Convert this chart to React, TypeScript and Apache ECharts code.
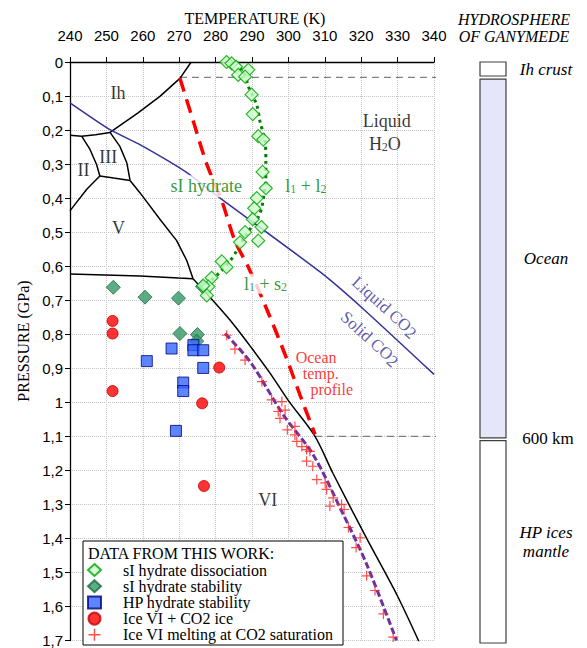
import React, { useEffect, useRef } from "react";
import * as echarts from "echarts";

const SERIF = "'Liberation Serif','Times New Roman',serif";
const SANS = "'Liberation Sans',Arial,sans-serif";

// ---------- axes ----------
const tempMin = 240;
const tempMax = 340;
const tempStep = 10;
const presMin = 0;
const presMax = 1.7;
const presStep = 0.1;

// ---------- phase boundaries of H2O [T (K), P (GPa)] ----------
const iceIhMelting = [[273.3, 0], [270.2, 0.048], [264.7, 0.101], [258.6, 0.15], [251, 0.207]];
const iceIhII = [[240, 0.215], [243.2, 0.218]];
const iceIhIII = [[243.2, 0.218], [247, 0.214], [251, 0.207]];
const iceIIIII = [[243.2, 0.218], [245.5, 0.257], [247.3, 0.301], [248.2, 0.335]];
const iceIIV = [[248.2, 0.335], [244.6, 0.374], [240.3, 0.433], [240, 0.437]];
const iceIIIV = [[248.2, 0.335], [252, 0.341], [256.5, 0.348]];
const iceIIIMelting = [[251, 0.207], [253.7, 0.248], [255.6, 0.296], [256.5, 0.348]];
const iceVMelting = [[256.5, 0.348], [259.2, 0.384], [264.7, 0.462], [269.3, 0.525], [272.1, 0.584], [273.8, 0.637]];
const iceVVI = [[240, 0.623], [259.2, 0.629], [269.8, 0.635], [273.8, 0.637]];
const iceVIMelting = [[273.8, 0.637], [280, 0.71], [285, 0.772], [290, 0.842], [295, 0.915], [300, 0.995], [307.3, 1.1], [312.3, 1.21], [321.5, 1.4], [330, 1.57], [337, 1.73]];

// ---------- CO2 liquid / solid boundary ----------
const co2Boundary = [[240, 0.12], [251, 0.199], [259.2, 0.243], [272.1, 0.325], [280.5, 0.394], [308.7, 0.617], [320.5, 0.725], [340, 0.918]];

// ---------- sI hydrate dissociation curve ----------
const hydrateCurve = [[285.6, 0], [288.1, 0.041], [289, 0.072], [291.3, 0.126], [292.2, 0.175], [293.6, 0.233], [293.8, 0.292], [293.8, 0.35], [293.3, 0.389], [292.7, 0.427], [291.7, 0.456], [288.5, 0.506], [285.8, 0.555], [284, 0.584], [280.7, 0.623], [277.6, 0.652]];

// ---------- ocean temperature profile ----------
const oceanProfile = [[270.2, 0.048], [273.9, 0.175], [277.6, 0.301], [281.7, 0.408], [285.3, 0.525], [289, 0.603], [294, 0.725], [299.5, 0.871], [303.2, 0.979], [307.3, 1.094]];

// ---------- Ice VI melting at CO2 saturation (fit) ----------
const iceVICO2Fit = [[282.6, 0.798], [289.5, 0.881], [298.6, 1.037], [306.8, 1.154], [315.1, 1.33], [321.5, 1.476], [329.7, 1.7]];

// ---------- data from this work ----------
const sIDissociation = [[283.0, 0.0], [284.4, 0.004], [285.6, 0.014], [289.0, 0.023], [286.2, 0.038], [288.1, 0.043], [289.9, 0.096], [290.2, 0.153], [291.7, 0.218], [293.1, 0.228], [292.9, 0.323], [293.8, 0.371], [291.3, 0.4], [290.6, 0.43], [290.2, 0.462], [292.6, 0.485], [291.7, 0.525], [288.1, 0.5], [286.7, 0.53], [281.7, 0.586], [283.0, 0.603], [278.9, 0.634], [278.0, 0.66], [277.6, 0.686], [276.6, 0.657]];
const sIStability = [[251.9, 0.662], [260.6, 0.691], [269.8, 0.694], [270.2, 0.798], [275.0, 0.801], [274.8, 0.82], [276.4, 0.66]];
const hpHydrate = [[267.9, 0.842], [273.9, 0.832], [273.9, 0.847], [276.6, 0.847], [261.1, 0.879], [276.6, 0.899], [271.1, 0.942], [271.1, 0.967], [269.1, 1.084]];
const iceVICO2Ice = [[251.7, 0.761], [251.7, 0.798], [281.0, 0.898], [251.7, 0.967], [276.3, 1.003], [276.8, 1.246]];
const iceVIMeltCO2 = [[283.05, 0.803], [285.3, 0.844], [288.1, 0.876], [292.7, 0.939], [295.4, 0.993], [298.2, 0.998], [297.2, 1.027], [299.1, 1.023], [297.7, 1.047], [299.7, 1.081], [301.8, 1.071], [301.8, 1.096], [302.3, 1.115], [303.7, 1.13], [305.0, 1.139], [305.9, 1.144], [305.0, 1.173], [306.7, 1.188], [307.8, 1.227], [310.1, 1.237], [310.5, 1.256], [312.3, 1.281], [311.4, 1.305], [314.6, 1.3], [315.3, 1.315], [316.5, 1.368], [319.7, 1.398], [318.6, 1.427], [321.5, 1.51], [323.8, 1.553], [326.1, 1.622], [328.8, 1.69]];

const legendNames = ["sI hydrate dissociation", "sI hydrate stability", "HP hydrate stability", "Ice VI + CO2 ice", "Ice VI melting at CO2 saturation"];

// ---------- hydrosphere column ----------
const layerNames = ["Ih crust", "Ocean", "HP ices\nmantle"];
const layerTopP = [0, 0.05, 1.108];
const layerBottomP = [0.041, 1.1, 1.7];
const crustBaseP = 0.045;
const oceanBaseP = 1.1;
const oceanBaseLabel = "600 km";
const guideStartT = [270.2, 307.3];
const guideEndT = 352.6;

// ---------- labels ----------
const phaseNames = ["Ih", "III", "II", "V", "VI"];
const phaseNameT = [253.2, 250.5, 243.7, 253.3, 294.3];
const phaseNameP = [0.091, 0.279, 0.316, 0.489, 1.286];
const profileWords = ["Ocean", "temp.", "profile"];
const profileWordT = [307.6, 308.9, 311.9];
const profileWordP = [0.868, 0.915, 0.962];

const plusPath = "path://M4.4,0h1.2v4.4h4.4v1.2h-4.4v4.4h-1.2v-4.4h-4.4v-1.2h4.4z";

function curve(name: string, data: number[][], color: string, width: number, type: any, extra: any = {}) {
  return {
    name,
    type: "line",
    data,
    symbol: "none",
    showSymbol: false,
    silent: true,
    lineStyle: { color, width, type },
    z: 2,
    ...extra,
  };
}

function note(text: string, T: number, P: number, label: any) {
  return { name: text, value: [T, P], label };
}

const black = "#000000";
const navy = "#333399";
const green = "#008000";
const red = "#FF0000";

export default function App() {
  const ref = useRef<HTMLDivElement>(null);
  useEffect(() => {
    const chart = echarts.init(ref.current!, null, { renderer: "svg" });

    const notes = [
      ...phaseNames.map((n, i) => note(n, phaseNameT[i], phaseNameP[i], { color: black })),
      note("Liquid", 327, 0.173, { color: black }),
      note("H{s|2}O", 326.5, 0.24, { color: black }),
      note("sI hydrate", 277.4, 0.365, { color: green, backgroundColor: "#ffffff", padding: [2, 2] }),
      note("l{s|1} + l{s|2}", 304.8, 0.365, { color: green }),
      note("l{s|1} + s{s|2}", 293.7, 0.652, { color: green, backgroundColor: "#ffffff", padding: [1, 2] }),
      ...profileWords.map((w, i) => note(w, profileWordT[i], profileWordP[i], { color: red, fontSize: 16, lineHeight: 15 })),
      note("Liquid CO{c|2}", 326.5, 0.72, { color: navy, rotate: -42, fontSize: 17 }),
      note("Solid CO{c|2}", 322.4, 0.813, { color: navy, rotate: -42, fontSize: 17 }),
    ];

    const option: any = {
      animation: false,
      backgroundColor: "#ffffff",
      grid: [
        { left: 70, top: 62, width: 364, height: 581 },
        { left: 480, top: 62, width: 26, height: 581 },
      ],
      xAxis: [
        {
          type: "value",
          gridIndex: 0,
          position: "top",
          min: tempMin,
          max: tempMax,
          interval: tempStep,
          axisLine: { show: true, lineStyle: { color: black, width: 1.3 } },
          axisTick: { show: true, length: 5, lineStyle: { color: black, width: 1 } },
          axisLabel: { fontFamily: SANS, fontSize: 15, color: black, margin: 19 },
          splitLine: { show: true, lineStyle: { color: "#C4C4C4", type: "dotted", width: 1 } },
        },
        { type: "value", gridIndex: 1, min: 0, max: 1, show: false },
      ],
      yAxis: [
        {
          type: "value",
          gridIndex: 0,
          inverse: true,
          min: presMin,
          max: presMax,
          interval: presStep,
          axisLine: { show: true, lineStyle: { color: black, width: 1.3 } },
          axisTick: { show: true, length: 5, lineStyle: { color: black, width: 1 } },
          axisLabel: {
            fontFamily: SANS,
            fontSize: 15,
            color: black,
            margin: 7,
            formatter: (v: number) => String(Math.round(v * 10) / 10).replace(".", ","),
          },
          splitLine: { show: true, lineStyle: { color: "#C4C4C4", type: "dotted", width: 1 } },
        },
        { type: "value", gridIndex: 1, inverse: true, min: presMin, max: presMax, show: false },
      ],
      legend: {
        orient: "vertical",
        left: 87,
        top: 562,
        padding: 0,
        itemGap: 0.2,
        itemWidth: 13,
        itemHeight: 12,
        selectedMode: false,
        z: 6,
        data: legendNames,
        textStyle: { fontFamily: SERIF, fontSize: 16, color: black, lineHeight: 16, padding: [0, 0, 0, 17] },
      },
      graphic: [
        { type: "text", x: 255, y: 18, style: { text: "TEMPERATURE (K)", fontFamily: SERIF, fontSize: 16, fill: black, align: "center", verticalAlign: "middle" } },
        { type: "text", x: 23, y: 341, rotation: Math.PI / 2, style: { text: "PRESSURE (GPa)", fontFamily: SERIF, fontSize: 16, fill: black, align: "center", verticalAlign: "middle" } },
        { type: "text", x: 514, y: 19, style: { text: "HYDROSPHERE", fontFamily: SERIF, fontStyle: "italic", fontSize: 16, fill: black, align: "center", verticalAlign: "middle" } },
        { type: "text", x: 514, y: 36, style: { text: "OF GANYMEDE", fontFamily: SERIF, fontStyle: "italic", fontSize: 16, fill: black, align: "center", verticalAlign: "middle" } },
        { type: "rect", z: 4, shape: { x: 83, y: 541, width: 260, height: 104 }, style: { fill: "#ffffff", stroke: black, lineWidth: 1 } },
        { type: "text", z: 5, x: 88, y: 553, style: { text: "DATA FROM THIS WORK:", fontFamily: SERIF, fontSize: 16, fill: black, align: "left", verticalAlign: "middle" } },
      ],
      series: [
        curve("guide1", [[guideStartT[0], crustBaseP], [guideEndT, crustBaseP]], "#808080", 1.3, [7, 5], { clip: false }),
        curve("guide2", [[guideStartT[1], oceanBaseP], [guideEndT, oceanBaseP]], "#808080", 1.3, [7, 5], { clip: false }),
        curve("Ih melting", iceIhMelting, black, 1.5, "solid"),
        curve("Ih-II", iceIhII, black, 1.5, "solid"),
        curve("Ih-III", iceIhIII, black, 1.5, "solid"),
        curve("II-III", iceIIIII, black, 1.5, "solid"),
        curve("II-V", iceIIV, black, 1.5, "solid"),
        curve("III-V", iceIIIV, black, 1.5, "solid"),
        curve("III melting", iceIIIMelting, black, 1.5, "solid"),
        curve("V melting", iceVMelting, black, 1.5, "solid"),
        curve("V-VI", iceVVI, black, 1.5, "solid"),
        curve("VI melting", iceVIMelting, black, 1.5, "solid", { smooth: 0.3 }),
        curve("CO2 boundary", co2Boundary, navy, 1.5, "solid", { smooth: 0.2 }),
        curve("hydrate curve", hydrateCurve, green, 3, [3, 4], { smooth: 0.3 }),
        curve("ocean profile", oceanProfile, red, 3.5, [14, 8], { smooth: 0.3 }),
        curve("VI fit", iceVICO2Fit, "#7030A0", 3, [7, 3], { smooth: 0.3 }),
        {
          name: legendNames[1],
          type: "scatter",
          data: sIStability,
          symbol: "diamond",
          symbolSize: 14,
          itemStyle: { color: "#339966", borderColor: "#1E6B3C", borderWidth: 1 },
          z: 3,
        },
        {
          name: legendNames[0],
          type: "scatter",
          data: sIDissociation,
          symbol: "diamond",
          symbolSize: 13,
          itemStyle: { color: "#CCFFCC", borderColor: "#00A000", borderWidth: 1.2 },
          z: 3,
        },
        {
          name: legendNames[2],
          type: "scatter",
          data: hpHydrate,
          symbol: "rect",
          symbolSize: 11,
          itemStyle: { color: "#3366FF", borderColor: "#000080", borderWidth: 1 },
          z: 3,
        },
        {
          name: legendNames[3],
          type: "scatter",
          data: iceVICO2Ice,
          symbol: "circle",
          symbolSize: 11,
          itemStyle: { color: "#FF0000", borderColor: "#C00000", borderWidth: 1 },
          z: 3,
        },
        {
          name: legendNames[4],
          type: "scatter",
          data: iceVIMeltCO2,
          symbol: plusPath,
          symbolSize: 10,
          itemStyle: { color: "#FF2020" },
          z: 3,
        },
        {
          name: "notes",
          type: "scatter",
          data: notes,
          symbolSize: 0,
          silent: true,
          clip: false,
          z: 10,
          label: {
            show: true,
            position: "inside",
            fontFamily: SERIF,
            fontSize: 18,
            formatter: (p: any) => p.name,
            rich: {
              s: { fontSize: 12, verticalAlign: "bottom" },
              c: { fontSize: 17, verticalAlign: "bottom", padding: [4, 0, 0, 0] },
            },
          },
        },
        {
          name: "hydrosphere",
          type: "custom",
          xAxisIndex: 1,
          yAxisIndex: 1,
          silent: true,
          clip: false,
          data: layerNames.map((n, i) => [i, layerTopP[i], layerBottomP[i]]),
          renderItem: (params: any, api: any) => {
            const i = api.value(0);
            const p1 = api.coord([0, api.value(1)]);
            const p2 = api.coord([1, api.value(2)]);
            const fills = ["#ffffff", "#E6E6FA", "#ffffff"];
            const children: any[] = [
              {
                type: "rect",
                shape: { x: p1[0], y: p1[1], width: p2[0] - p1[0], height: p2[1] - p1[1] },
                style: { fill: fills[i], stroke: "#404040", lineWidth: 1.2 },
              },
              {
                type: "text",
                x: p2[0] + 40,
                y: (p1[1] + p2[1]) / 2,
                style: { text: layerNames[i], fontFamily: SERIF, fontStyle: "italic", fontSize: 17, fill: black, align: "center", verticalAlign: "middle", lineHeight: 19 },
              },
            ];
            if (i === 1) {
              const pb = api.coord([1, oceanBaseP]);
              children.push({
                type: "text",
                x: pb[0] + 42,
                y: pb[1] + 1,
                style: { text: oceanBaseLabel, fontFamily: SERIF, fontSize: 17, fill: black, align: "center", verticalAlign: "middle" },
              });
            }
            return { type: "group", children };
          },
        },
      ],
    };
    chart.setOption(option);
    return () => chart.dispose();
  }, []);
  return <div ref={ref} style={{ position: "absolute", left: 0, top: 0, width: 587, height: 648 }} />;
}
